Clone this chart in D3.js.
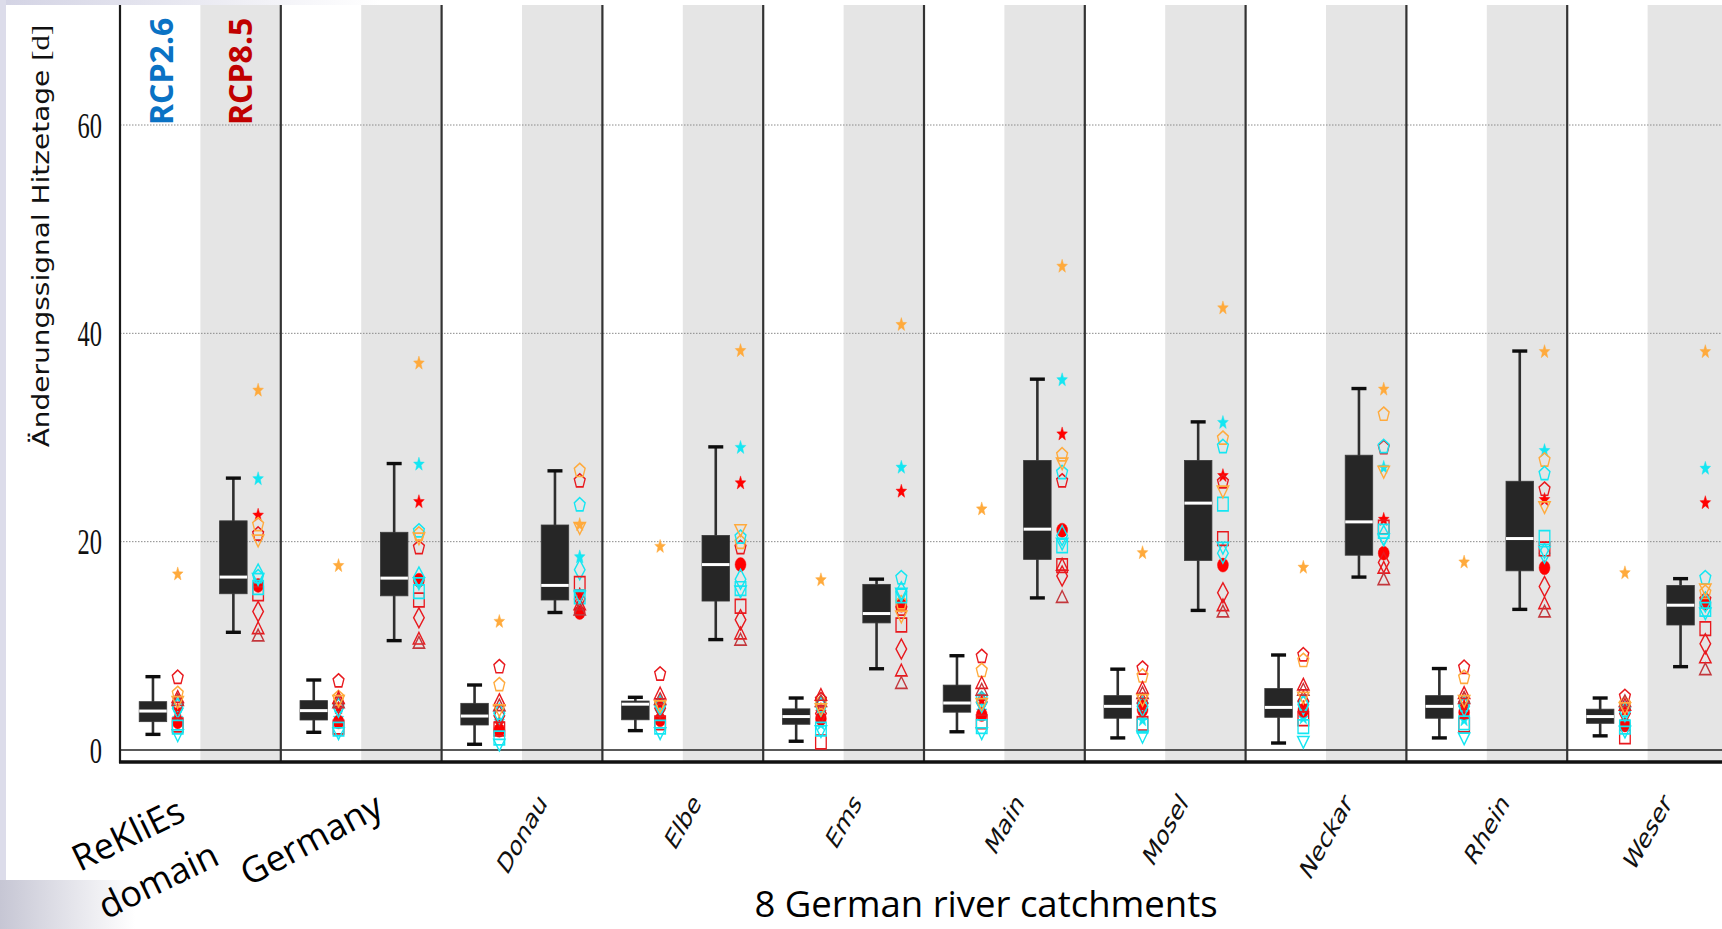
<!DOCTYPE html>
<html>
<head>
<meta charset="utf-8">
<script src="https://cdn.jsdelivr.net/npm/d3@7"></script>
<style>
  html, body { margin: 0; padding: 0; background: #fff; }
  svg { display: block; }
</style>
</head>
<body>
<svg id="chart" width="1722" height="929"></svg>
<script>
/* data: change signal of hot days [d] */
const regions = ['ReKliEs domain', 'Germany', 'Donau', 'Elbe', 'Ems', 'Main', 'Mosel', 'Neckar', 'Rhein', 'Weser'];
const scenarios = ['RCP2.6', 'RCP8.5'];
const yTicks = [0, 20, 40, 60];

// ensemble boxes: [min, q25, median, q75, max]
const rcp26Box = [
  [1.5, 2.72, 3.74, 4.64, 7.04],
  [1.7, 2.88, 3.78, 4.74, 6.72],
  [0.55, 2.4, 3.26, 4.48, 6.24],
  [1.86, 2.9, 4.4, 4.7, 5.06],
  [0.84, 2.47, 3.21, 3.95, 4.99],
  [1.75, 3.63, 4.51, 6.23, 9.05],
  [1.16, 3.05, 4.19, 5.22, 7.76],
  [0.67, 3.14, 4.09, 5.9, 9.12],
  [1.16, 3.05, 4.19, 5.22, 7.82],
  [1.36, 2.56, 3.21, 3.92, 4.99]
];
const rcp85Box = [
  [11.3, 15.0, 16.6, 22.0, 26.1],
  [10.5, 14.8, 16.5, 20.9, 27.5],
  [13.2, 14.4, 15.8, 21.6, 26.8],
  [10.6, 14.3, 17.8, 20.6, 29.1],
  [7.8, 12.2, 13.1, 15.9, 16.4],
  [14.6, 18.3, 21.2, 27.8, 35.6],
  [13.4, 18.2, 23.7, 27.8, 31.5],
  [16.6, 18.7, 21.9, 28.3, 34.7],
  [13.5, 17.2, 20.3, 25.8, 38.3],
  [8.0, 12.0, 13.9, 15.8, 16.45]
];

// single simulations, one column per model (order as in `models`)
const models = ['orangeStar', 'cyanStar', 'redStar', 'redCircle', 'redPent', 'orangePent', 'cyanPent',
  'redDiamond', 'cyanDiamond', 'redSquare', 'cyanSquare', 'redTri', 'darkRedTri', 'cyanTriDown', 'orangeTriDown'];
const rcp26Points = [
  [16.96, 3.1, 3.9, 2.7, 7.04, 5.5, 4.3, 4.4, 4.0, 2.4, 2.2, 5.1, 4.8, 1.4, 4.6],
  [17.76, 3.1, 4.1, 2.7, 6.7, 5.1, 4.3, 4.5, 4.1, 2.2, 2.0, 5.0, 4.6, 1.6, 4.7],
  [12.4, 2.8, 2.6, 1.9, 8.06, 6.34, 3.6, 3.3, 3.5, 2.0, 1.15, 4.8, 4.3, 0.5, 3.8],
  [19.6, 3.7, 4.5, 2.9, 7.36, 4.4, 4.3, 4.0, 4.3, 2.6, 2.2, 5.44, 4.9, 1.6, 4.2],
  [16.4, 2.56, 3.7, 3.0, 4.9, 4.6, 4.3, 3.5, 4.2, 0.77, 2.0, 5.3, 4.7, 1.8, 3.9],
  [23.2, 3.8, 4.83, 3.4, 9.05, 7.7, 5.0, 4.6, 4.57, 2.7, 2.24, 6.45, 5.8, 1.6, 4.4],
  [19.0, 2.95, 4.67, 3.86, 7.92, 7.17, 4.4, 4.5, 4.19, 2.56, 2.3, 5.97, 5.48, 1.26, 4.8],
  [17.6, 3.14, 4.19, 3.8, 9.2, 8.66, 4.5, 4.7, 4.35, 3.0, 2.24, 6.29, 5.8, 0.77, 5.0],
  [18.1, 2.95, 4.35, 3.6, 8.0, 7.04, 4.4, 4.6, 4.19, 2.4, 2.6, 5.48, 5.0, 1.1, 4.7],
  [17.07, 2.78, 3.86, 2.4, 5.2, 4.5, 3.9, 3.5, 3.7, 1.26, 2.2, 4.35, 4.7, 1.75, 4.0]
];
const rcp85Points = [
  [34.6, 26.1, 22.6, 15.8, 20.8, 21.7, 16.7, 13.3, 16.9, 15.0, 15.6, 11.7, 11.0, 16.4, 20.1],
  [37.2, 27.5, 23.9, 16.3, 19.5, 20.8, 21.1, 12.7, 16.6, 14.4, 15.2, 10.7, 10.3, 16.0, 20.3],
  [21.7, 18.6, 15.0, 13.2, 25.9, 26.9, 23.6, 14.5, 17.3, 16.0, 14.7, 14.0, 13.5, 14.7, 21.3],
  [38.4, 29.1, 25.7, 17.8, 19.5, 20.0, 20.5, 12.5, 16.4, 13.8, 15.5, 11.2, 10.6, 15.2, 21.1],
  [40.9, 27.2, 24.9, 13.9, 13.6, 14.2, 16.6, 9.7, 15.2, 12.0, 14.8, 7.65, 6.45, 15.0, 12.8],
  [46.5, 35.6, 30.4, 21.1, 25.9, 28.4, 26.7, 16.7, 20.6, 17.7, 19.6, 17.8, 14.7, 19.8, 27.5],
  [42.5, 31.5, 26.4, 17.75, 25.8, 30.0, 29.2, 15.1, 18.9, 20.3, 23.6, 13.9, 13.3, 19.4, 24.8],
  [34.7, 27.2, 22.2, 18.9, 29.1, 32.3, 29.2, 18.0, 20.6, 21.4, 21.0, 17.5, 16.4, 20.2, 26.7],
  [38.3, 28.8, 24.1, 17.5, 25.1, 27.9, 26.6, 15.7, 18.9, 19.3, 20.4, 14.1, 13.3, 19.0, 23.3],
  [38.3, 27.1, 23.8, 14.1, 14.5, 15.2, 16.6, 10.2, 14.2, 11.65, 13.5, 8.9, 7.76, 13.1, 15.4]
];

/* marker styles */
const ORANGE = '#ffaa3c', CYAN = '#14e6f2', RED = '#ff0000', RED_O = '#e8191e', DARKRED = '#c3373c';
const modelStyle = {
  orangeStar: { shape: 'star', color: ORANGE, filled: true },
  cyanStar: { shape: 'star', color: CYAN, filled: true },
  redStar: { shape: 'star', color: RED, filled: true },
  redCircle: { shape: 'circle', color: RED, filled: true },
  redPent: { shape: 'pentagon', color: RED_O },
  orangePent: { shape: 'pentagon', color: ORANGE },
  cyanPent: { shape: 'pentagon', color: CYAN },
  redDiamond: { shape: 'diamond', color: RED_O },
  cyanDiamond: { shape: 'diamond', color: CYAN },
  redSquare: { shape: 'square', color: RED_O },
  cyanSquare: { shape: 'square', color: CYAN },
  redTri: { shape: 'triUp', color: RED_O },
  darkRedTri: { shape: 'triUp', color: DARKRED },
  cyanTriDown: { shape: 'triDown', color: CYAN },
  orangeTriDown: { shape: 'triDown', color: ORANGE }
};

const polygon = (ctx, pts) => {
  pts.forEach((p, i) => (i ? ctx.lineTo(p[0], p[1]) : ctx.moveTo(p[0], p[1])));
  ctx.closePath();
};
// custom d3 symbol types, size = radius in px
const shapes = {
  star: { draw(ctx, r) {
    polygon(ctx, d3.range(10).map(i => {
      const a = -Math.PI / 2 + i * Math.PI / 5, rr = i % 2 ? r * 0.42 : r;
      return [rr * Math.cos(a), rr * Math.sin(a) + 0.8];
    }));
  } },
  pentagon: { draw(ctx, r) {
    polygon(ctx, d3.range(5).map(i => {
      const a = -Math.PI / 2 + i * 2 * Math.PI / 5;
      return [r * Math.cos(a), r * Math.sin(a) + 0.8];
    }));
  } },
  diamond: { draw(ctx, r) { polygon(ctx, [[0, -r], [r * 0.68, 0], [0, r], [-r * 0.68, 0]]); } },
  square: { draw(ctx, r) { polygon(ctx, [[-r, -r], [r, -r], [r, r], [-r, r]]); } },
  triUp: { draw(ctx, r) { polygon(ctx, [[0, -r * 0.85], [r, r * 0.75], [-r, r * 0.75]]); } },
  triDown: { draw(ctx, r) { polygon(ctx, [[0, r * 0.85], [r, -r * 0.75], [-r, -r * 0.75]]); } },
  circle: { draw(ctx, r) { ctx.moveTo(r, 0); ctx.arc(0, 0, r, 0, 2 * Math.PI); } }
};
const shapeSize = { star: 7.2, pentagon: 7.3, diamond: 10, square: 6.8, triUp: 7.3, triDown: 7.3, circle: 7 };
// the original figure was pasted horizontally squeezed
const squeeze = 0.78, textSqueeze = 0.7;

/* layout */
const W = 1722, H = 929;
const plotLeft = 120, panelW = 160.8, plotTop = 5, plotBottom = 762;
const svg = d3.select('#chart');

const x = d3.scaleBand().domain(regions).range([plotLeft, plotLeft + panelW * regions.length]).paddingInner(0);
const xs = d3.scaleBand().domain(scenarios).range([0, x.bandwidth()]);
const y = d3.scaleLinear().domain([-1.152, 71.52]).range([plotBottom, plotTop]);

// slide background remnants
const defs = svg.append('defs');
const g1 = defs.append('linearGradient').attr('id', 'fadeTop');
g1.append('stop').attr('offset', 0).attr('stop-color', '#d3d3e4');
g1.append('stop').attr('offset', 1).attr('stop-color', '#ffffff');
const g2 = defs.append('linearGradient').attr('id', 'fadeBottom');
g2.append('stop').attr('offset', 0).attr('stop-color', '#c6c6d4');
g2.append('stop').attr('offset', 1).attr('stop-color', '#ffffff');
svg.append('rect').attr('x', 0).attr('y', 0).attr('width', 380).attr('height', plotTop).attr('fill', 'url(#fadeTop)');
svg.append('rect').attr('x', 0).attr('y', 0).attr('width', 6).attr('height', 880).attr('fill', '#dcdcea');
svg.append('rect').attr('x', 0).attr('y', 880).attr('width', 135).attr('height', H - 880).attr('fill', 'url(#fadeBottom)');

// grey RCP8.5 half of every panel
svg.append('g').selectAll('rect').data(regions).join('rect')
  .attr('x', d => x(d) + xs('RCP8.5'))
  .attr('y', plotTop)
  .attr('width', xs.bandwidth())
  .attr('height', plotBottom - plotTop)
  .attr('fill', '#e5e5e5');

// dotted grid
svg.append('g').selectAll('line').data(yTicks.filter(t => t > 0)).join('line')
  .attr('x1', plotLeft).attr('x2', W)
  .attr('y1', d => y(d)).attr('y2', d => y(d))
  .attr('stroke', '#8a8a8a').attr('stroke-width', 1).attr('stroke-dasharray', '1.5,1.5');

// zero line and frame
svg.append('line').attr('x1', plotLeft).attr('x2', W).attr('y1', y(0)).attr('y2', y(0))
  .attr('stroke', '#222').attr('stroke-width', 1.6);
svg.append('g').selectAll('line').data(regions).join('line')
  .attr('x1', d => x(d)).attr('x2', d => x(d))
  .attr('y1', plotTop).attr('y2', plotBottom + 1)
  .attr('stroke', (d, i) => (i ? '#333' : '#1a1a1a')).attr('stroke-width', 2.2);
svg.append('line').attr('x1', plotLeft - 1).attr('x2', W).attr('y1', plotBottom).attr('y2', plotBottom)
  .attr('stroke', '#111').attr('stroke-width', 3.5);

// y axis labels
const yAxis = svg.append('g').attr('transform', `translate(${plotLeft},0)`)
  .call(d3.axisLeft(y).tickValues(yTicks).tickSize(0).tickPadding(18).tickFormat(d3.format('d')));
yAxis.select('.domain').remove();
yAxis.selectAll('text')
  .attr('font-family', '"Liberation Serif", "DejaVu Serif", serif')
  .attr('font-size', 35)
  .attr('fill', '#111')
  .attr('x', null).attr('dy', null)
  .attr('transform', `translate(-18,12) scale(${textSqueeze},1)`);

// box plots
const boxW = 27.5, capW = 15;
const boxData = [];
regions.forEach((r, i) => {
  boxData.push({ region: r, scen: 'RCP2.6', s: rcp26Box[i] });
  boxData.push({ region: r, scen: 'RCP8.5', s: rcp85Box[i] });
});
const boxCx = d => x(d.region) + xs(d.scen) + xs.bandwidth() * 0.41;
const boxes = svg.append('g').selectAll('g').data(boxData).join('g');
boxes.append('line')
  .attr('x1', boxCx).attr('x2', boxCx)
  .attr('y1', d => y(d.s[4])).attr('y2', d => y(d.s[0]))
  .attr('stroke', '#2e2e2e').attr('stroke-width', 2.6);
boxes.selectAll('.cap').data(d => [d.s[0], d.s[4]].map(v => ({ cx: boxCx(d), v }))).join('line')
  .attr('class', 'cap')
  .attr('x1', d => d.cx - capW / 2).attr('x2', d => d.cx + capW / 2)
  .attr('y1', d => y(d.v)).attr('y2', d => y(d.v))
  .attr('stroke', '#0d0d0d').attr('stroke-width', 3.4);
boxes.append('rect')
  .attr('x', d => boxCx(d) - boxW / 2).attr('width', boxW)
  .attr('y', d => y(d.s[3])).attr('height', d => y(d.s[1]) - y(d.s[3]))
  .attr('fill', '#262626').attr('stroke', '#3a3a3a').attr('stroke-width', 0.8);
boxes.append('line')
  .attr('x1', d => boxCx(d) - boxW / 2).attr('x2', d => boxCx(d) + boxW / 2)
  .attr('y1', d => y(d.s[2])).attr('y2', d => y(d.s[2]))
  .attr('stroke', '#fff').attr('stroke-width', 3);

// single-model markers
const pts = [];
models.forEach((m, k) => {
  regions.forEach((r, i) => {
    pts.push({ region: r, scen: 'RCP2.6', m, v: rcp26Points[i][k] });
    pts.push({ region: r, scen: 'RCP8.5', m, v: rcp85Points[i][k] });
  });
});
const symbol = d3.symbol();
svg.append('g').selectAll('path').data(pts).join('path')
  .attr('d', d => {
    const sh = modelStyle[d.m].shape;
    return symbol.type(shapes[sh]).size(shapeSize[sh])();
  })
  .attr('transform', d => `translate(${x(d.region) + xs(d.scen) + xs.bandwidth() * 0.718},${y(d.v)}) scale(${squeeze},1)`)
  .attr('fill', d => (modelStyle[d.m].filled ? modelStyle[d.m].color : 'none'))
  .attr('stroke', d => modelStyle[d.m].color)
  .attr('stroke-width', d => (modelStyle[d.m].filled ? 0.5 : 1.7));

// scenario labels
const sans = '"Open Sans", "DejaVu Sans", sans-serif';
[['RCP2.6', '#0a72c4', 173], ['RCP8.5', '#c00000', 252]].forEach(([t, c, bx]) => {
  svg.append('text')
    .attr('transform', `translate(${bx},125) rotate(-90)`)
    .attr('font-family', sans).attr('font-weight', 700).attr('font-size', 32)
    .attr('fill', c).text(t);
});

// y title
const yTitle = svg.append('text')
  .attr('transform', 'translate(49,236) scale(0.82,1) rotate(-90)')
  .attr('text-anchor', 'middle')
  .attr('font-family', '"DejaVu Sans", sans-serif').attr('font-size', 28).attr('fill', '#111');
yTitle.append('tspan').text('Änderungssignal Hitzetage ');
yTitle.append('tspan').attr('font-family', '"Liberation Serif", "DejaVu Serif", serif').attr('font-size', 31).text('[d]');

// river tick labels, rotated like matplotlib (bbox centred, top aligned), then squeezed
const labelTop = 791, ang = 51, fs = 28.5;
regions.slice(2).forEach(r => {
  const t = svg.append('text')
    .attr('font-family', '"DejaVu Sans", sans-serif').attr('font-size', fs).attr('fill', '#111')
    .attr('text-anchor', 'middle').attr('dy', '0.36em').text(r);
  const L = t.node().getComputedTextLength();
  const rad = ang * Math.PI / 180;
  const hh = (L * Math.sin(rad) + 0.73 * fs * Math.cos(rad)) / 2;
  t.attr('transform', `translate(${x(r) + x.bandwidth() / 2},${labelTop + hh}) scale(${textSqueeze},1) rotate(${-ang})`);
});

// slide text boxes
const slideText = (str, cx, cy, size, rot) => svg.append('text')
  .attr('transform', `translate(${cx},${cy}) rotate(${rot})`)
  .attr('text-anchor', 'middle').attr('dy', '0.36em')
  .attr('font-family', sans).attr('font-size', size).attr('fill', '#000').text(str);
const [l1, l2] = regions[0].split(' ');
slideText(l1, 128, 834, 36, -26);
slideText(l2, 158, 880, 36, -26);
slideText(regions[1], 311, 839, 36, -28);

svg.append('text')
  .attr('x', 986).attr('y', 917)
  .attr('text-anchor', 'middle')
  .attr('font-family', sans).attr('font-size', 36.5).attr('fill', '#000')
  .text('8 German river catchments');
</script>
</body>
</html>
